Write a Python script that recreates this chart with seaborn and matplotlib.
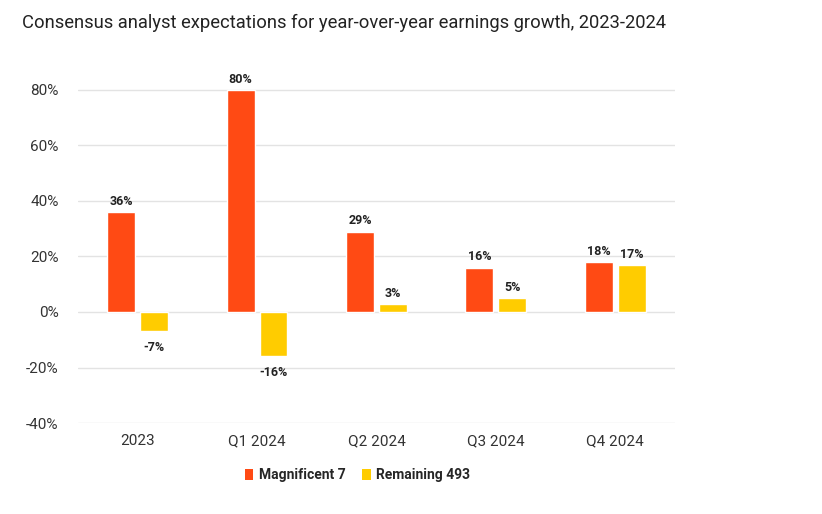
import matplotlib
matplotlib.use("Agg")
import matplotlib.pyplot as plt
import seaborn as sns
import pandas as pd
from matplotlib.patches import Patch

categories = ["2023", "Q1 2024", "Q2 2024", "Q3 2024", "Q4 2024"]
series_names = ["Magnificent 7", "Remaining 493"]
mag7 = [36, 80, 29, 16, 18]
rem493 = [-7, -16, 3, 5, 17]
yticks = [-40, -20, 0, 20, 40, 60, 80]

colors = ["#FF4A14", "#FFCC00"]

df = pd.DataFrame({
    "period": categories * 2,
    "series": [series_names[0]] * len(categories) + [series_names[1]] * len(categories),
    "value": mag7 + rem493,
})

sns.set_theme(style="white")
plt.rcParams["font.family"] = ["Roboto", "DejaVu Sans"]

fig = plt.figure(figsize=(8.22, 5.14), dpi=100)
ax = fig.add_axes([0.095, 0.177, 0.726, 0.675])

sns.barplot(data=df, x="period", y="value", hue="series", order=categories,
            hue_order=series_names, palette=colors, saturation=1, width=0.55, gap=0.15,
            legend=False, ax=ax, zorder=3)

ax.set_xlim(-0.5, 4.5)
ax.set_ylim(-40, 85)
ax.set_yticks(yticks)
ax.set_yticklabels([f"{t}%" for t in yticks], fontsize=11, color="#333333")
ax.tick_params(axis="x", labelsize=11, colors="#333333", length=0, pad=8)
ax.tick_params(axis="y", length=0, pad=14)
ax.set_xlabel("")
ax.set_ylabel("")
ax.grid(axis="y", color="#e3e3e3", linewidth=1, zorder=0)
for s in ax.spines.values():
    s.set_visible(False)

for container in ax.containers:
    for bar in container:
        h = bar.get_height()
        cx = bar.get_x() + bar.get_width() / 2
        if h >= 0:
            ax.annotate(f"{h:.0f}%", (cx, h), xytext=(0, 3), textcoords="offset points",
                        ha="center", va="bottom", fontsize=9, fontweight="bold", color="#222222")
        else:
            ax.annotate(f"{h:.0f}%", (cx, h), xytext=(0, -7), textcoords="offset points",
                        ha="center", va="top", fontsize=9, fontweight="bold", color="#222222")

fig.text(0.027, 0.972, "Consensus analyst expectations for year-over-year earnings growth, 2023-2024",
         fontsize=13.2, color="#222222", ha="left", va="top")

handles = [Patch(facecolor=c, edgecolor="none") for c in colors]
leg = fig.legend(handles, series_names, loc="center", bbox_to_anchor=(0.435, 0.075), ncol=2,
                 frameon=False, handlelength=0.6, handleheight=0.9, handletextpad=0.4,
                 columnspacing=1.2, prop={"weight": "bold", "size": 10})

fig.savefig("out.png", dpi=100)
